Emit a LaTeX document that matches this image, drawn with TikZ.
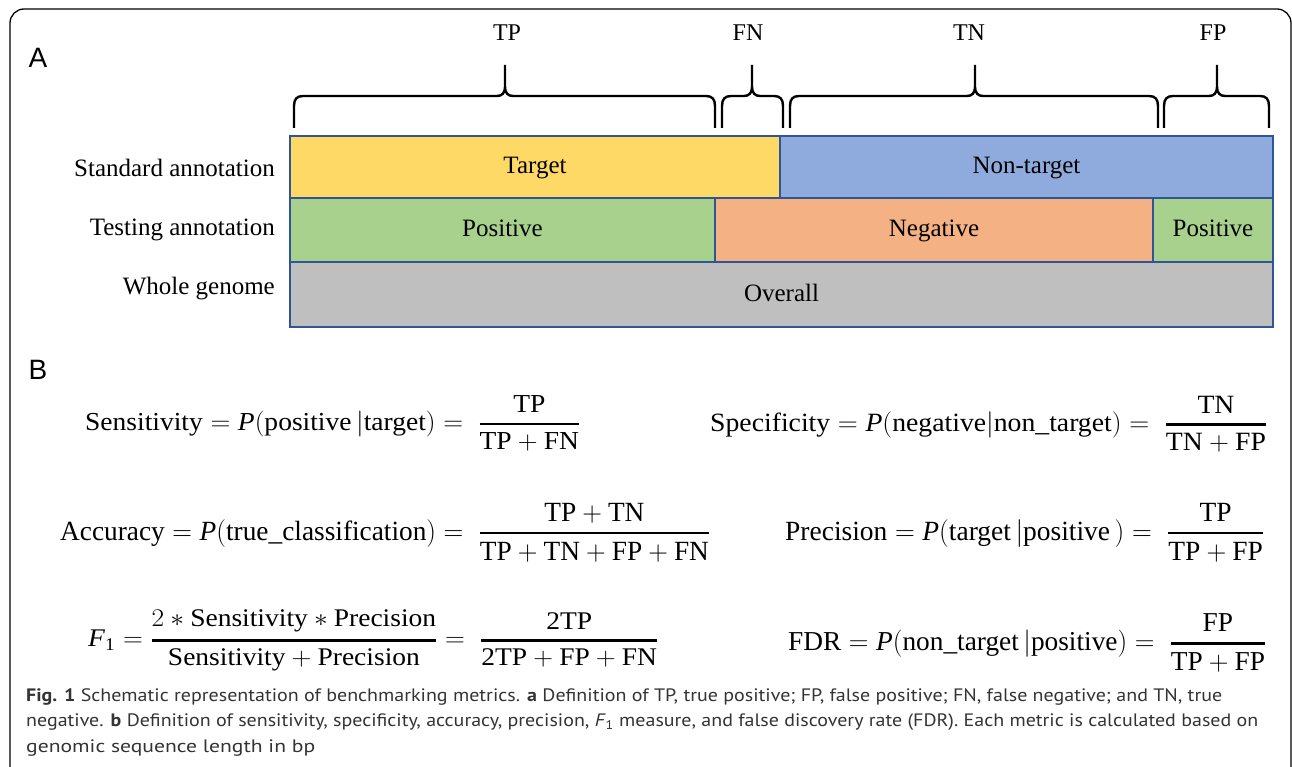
\RequirePackage{fix-cm}
\documentclass[tikz,border=0pt]{standalone}
\usepackage{amsmath}
\usepackage{graphicx}
\usepackage{fontspec}
\setmainfont{Liberation Serif}
\newfontfamily\panelfont{Liberation Sans}
\newfontfamily\capfont{PT Sans}
\usetikzlibrary{positioning}

\definecolor{targetyellow}{HTML}{FFD966}
\definecolor{nontargetblue}{HTML}{8FAADC}
\definecolor{positivegreen}{HTML}{A9D18E}
\definecolor{negativeorange}{HTML}{F4B183}
\definecolor{overallgray}{HTML}{BFBFBF}
\definecolor{edgeblue}{HTML}{2F5597}
\definecolor{captiongray}{HTML}{333333}

% left leg x, tip x, right leg x
\newcommand{\metricbrace}[3]{%
  \draw[line width=2.4pt] (#1,128) -- (#1,106) .. controls (#1,99) and (#1+3,96) .. (#1+9,96)
    -- (#2-8,96) .. controls (#2-3,96) and (#2,93) .. (#2,87) -- (#2,65)
    (#2,87) .. controls (#2,93) and (#2+3,96) .. (#2+8,96)
    -- (#3-9,96) .. controls (#3-3,96) and (#3,99) .. (#3,106) -- (#3,128);
}

\begin{document}
\begin{tikzpicture}[x=1pt, y=-1pt,
  bar/.style={draw=edgeblue, line width=1.8pt, inner sep=0pt, outer sep=0pt,
    text height=19pt, text depth=5pt, font=\fontsize{25}{30}\selectfont},
  rowlabel/.style={anchor=east, inner sep=0pt, text height=17pt, text depth=6pt,
    font=\fontsize{25}{30}\selectfont},
  toplabel/.style={inner sep=0pt, font=\fontsize{24}{28}\selectfont},
  panel/.style={inner sep=0pt, font=\panelfont\fontsize{28}{32}\selectfont},
  formula/.style={anchor=west, inner sep=0pt, font=\fontsize{26}{30}\selectfont},
  caption/.style={anchor=west, inner sep=0pt, text=captiongray,
    font=\capfont\fontsize{18}{22}\selectfont}]
\useasboundingbox (0,0) rectangle (1292,767);
\clip (0,0) rectangle (1292,767);
\draw[line width=1.3pt, rounded corners=14pt] (10,9) rectangle (1291,800);

\node[panel] (labA) at (38,58) {A};
\node[panel] (labB) at (38,370) {B};

% annotation bars
\node[bar, fill=targetyellow, minimum width=490pt, minimum height=62pt, anchor=north west]
  (target) at (290,136) {Target};
\node[bar, fill=nontargetblue, minimum width=493pt, minimum height=62pt, right=0pt of target]
  (nontarget) {Non-target};
\node[bar, fill=positivegreen, minimum width=425pt, minimum height=64pt, anchor=north west]
  (pos1) at (target.south west) {Positive};
\node[bar, fill=negativeorange, minimum width=438pt, minimum height=64pt, right=0pt of pos1]
  (neg) {Negative};
\node[bar, fill=positivegreen, minimum width=120pt, minimum height=64pt, right=0pt of neg]
  (pos2) {Positive};
\node[bar, fill=overallgray, minimum width=983pt, minimum height=65pt, anchor=north west]
  (overall) at (pos1.south west) {Overall};

\node[rowlabel] (stdlab) at (275,171) {Standard annotation};
\node[rowlabel] (testlab) at (275,230) {Testing annotation};
\node[rowlabel] (wholelab) at (275,289) {Whole genome};

% braces
\metricbrace{294}{505}{715}
\metricbrace{722}{752}{783}
\metricbrace{790}{975}{1158}
\metricbrace{1164}{1217}{1269}
\node[toplabel] (tp) at (507,33) {TP};
\node[toplabel] (fn) at (748,33) {FN};
\node[toplabel] (tn) at (969,33) {TN};
\node[toplabel] (fp) at (1213,33) {FP};

% formulas
\node[formula] (sens) at (85,423.5) {\resizebox*{495pt}{55pt}{$\displaystyle
  \text{Sensitivity} = \textit{P}(\text{positive}\,|\text{target}) = \;
  \genfrac{}{}{2.4pt}{0}{\text{TP}}{\text{TP} + \text{FN}}$}};
\node[formula] (spec) at (710,424) {\resizebox*{557pt}{56pt}{$\displaystyle
  \text{Specificity} = \textit{P}(\text{negative}|\text{non\_target}) = \;
  \genfrac{}{}{2.4pt}{0}{\text{TN}}{\text{TN} + \text{FP}}$}};
\node[formula] (acc) at (60,532.5) {\resizebox*{650pt}{59pt}{$\displaystyle
  \text{Accuracy} = \textit{P}(\text{true\_classification}) = \;
  \genfrac{}{}{2.4pt}{0}{\text{TP} + \text{TN}}{\text{TP} + \text{TN} + \text{FP} + \text{FN}}$}};
\node[formula] (prec) at (785,532.5) {\resizebox*{479pt}{59pt}{$\displaystyle
  \text{Precision} = \textit{P}(\text{target}\,|\text{positive}\,) = \;
  \genfrac{}{}{2.4pt}{0}{\text{TP}}{\text{TP} + \text{FP}}$}};
\node[formula] (fone) at (88,640.5) {\resizebox*{570pt}{61pt}{$\displaystyle
  \text{\textit{F}}_{\text{1}} = \genfrac{}{}{2.4pt}{0}{2 \ast \text{Sensitivity} \ast \text{Precision}}{\text{Sensitivity} + \text{Precision}} = \;
  \genfrac{}{}{2.4pt}{0}{\text{2TP}}{\text{2TP} + \text{FP} + \text{FN}}$}};
\node[formula] (fdr) at (788,643) {\resizebox*{478pt}{58pt}{$\displaystyle
  \text{FDR} = \textit{P}(\text{non\_target}\,|\text{positive}) = \;
  \genfrac{}{}{2.4pt}{0}{\text{FP}}{\text{TP} + \text{FP}}$}};

% caption
\node[caption] (cap1) at (26,697) {\resizebox{1196pt}{\height}{\textbf{Fig. 1} Schematic representation of benchmarking metrics. \textbf{a} Definition of TP, true positive; FP, false positive; FN, false negative; and TN, true}};
\node[caption] (cap2) at (26,722) {\resizebox{1232pt}{\height}{negative. \textbf{b} Definition of sensitivity, specificity, accuracy, precision, \textit{F}\textsubscript{1} measure, and false discovery rate (FDR). Each metric is calculated based on}};
\node[caption] (cap3) at (26,748) {\resizebox{289pt}{\height}{genomic sequence length in bp}};
\end{tikzpicture}
\end{document}
